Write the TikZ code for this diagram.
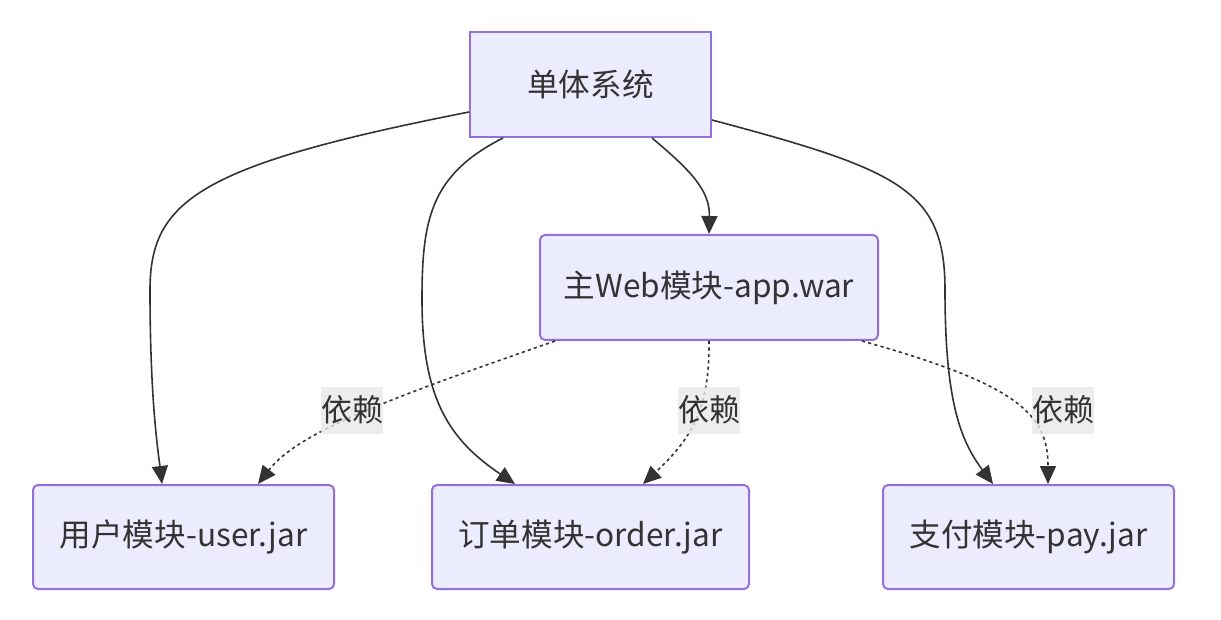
\documentclass[tikz,border=0pt]{standalone}
\usepackage{fontspec}
\setmainfont{Noto Sans CJK SC}
\usetikzlibrary{arrows.meta,calc}

\definecolor{boxfill}{HTML}{ECECFF}
\definecolor{boxline}{HTML}{9370DB}
\definecolor{ink}{HTML}{333333}
\definecolor{lblfill}{HTML}{E8E8E8}

\tikzset{
    modbox/.style = {draw = boxline, fill = boxfill, line width = 1pt,
        rounded corners = 2.5pt, minimum height = 52pt, text = ink,
        font = \fontsize{15.8pt}{18pt}\selectfont},
    link/.style = {draw = ink, line width = 0.8pt, -{Triangle[length=9pt,width=8pt]}},
    deplink/.style = {link, dash pattern = on 1.6pt off 1.6pt},
    deplbl/.style = {fill = lblfill, fill opacity = 0.8, text opacity = 1, text = ink,
        inner sep = 0pt, minimum width = 31pt, minimum height = 23.5pt,
        font = \fontsize{15.5pt}{18pt}\selectfont}
}

\begin{document}
\begin{tikzpicture}[x = 0.5pt, y = -0.5pt]
    \useasboundingbox (0,0) rectangle (1221,620);

    \node [modbox, rounded corners = 0pt, minimum width = 120.5pt, minimum height = 52.5pt]
        (sys) at (590.5, 84.5) {单体系统};
    \node [modbox, minimum width = 169pt, minimum height = 52.5pt]
        (app) at (709, 287.5) {主Web模块-app.war};
    \node [modbox, minimum width = 150.5pt] (user) at (183.5, 537) {用户模块-user.jar};
    \node [modbox, minimum width = 158.5pt] (order) at (590.5, 537) {订单模块-order.jar};
    \node [modbox, minimum width = 145.5pt] (pay) at (1028.5, 537) {支付模块-pay.jar};

    % solid links from the monolith
    \draw [link] ($(sys.west)+(0,27.5)$) .. controls (200,165) and (150,200) .. (150,290)
        .. controls (150,400) and (158,450) .. ($(user.north)+(-21.5,0)$);
    \draw [link] ($(sys.south)+(-87.5,0)$) .. controls (430,175) and (422,220) .. (422,300)
        .. controls (422,400) and (450,440) .. ($(order.north)+(-75.5,0)$);
    \draw [link] ($(sys.south)+(61.5,0)$) .. controls (690,170) and (710,190) .. (app.north);
    \draw [link] ($(sys.east)+(0,35.5)$) .. controls (900,170) and (945,190) .. (945,290)
        .. controls (945,400) and (960,440) .. ($(pay.north)+(-35.5,0)$);

    % dotted dependency links
    \draw [deplink] ($(app.south)+(-154,0)$) .. controls (400,395) and (300,430)
        .. ($(user.north)+(74.5,0)$);
    \draw [deplink] (app.south) .. controls (710,410) and (690,440)
        .. ($(order.north)+(52.5,0)$);
    \draw [deplink] ($(app.south)+(153,0)$) .. controls (1020,385) and (1048,415)
        .. ($(pay.north)+(19.5,0)$);

    \node [deplbl] (dep1) at (352, 410) {依赖};
    \node [deplbl] (dep2) at (709, 410) {依赖};
    \node [deplbl] (dep3) at (1063, 410) {依赖};
\end{tikzpicture}
\end{document}
